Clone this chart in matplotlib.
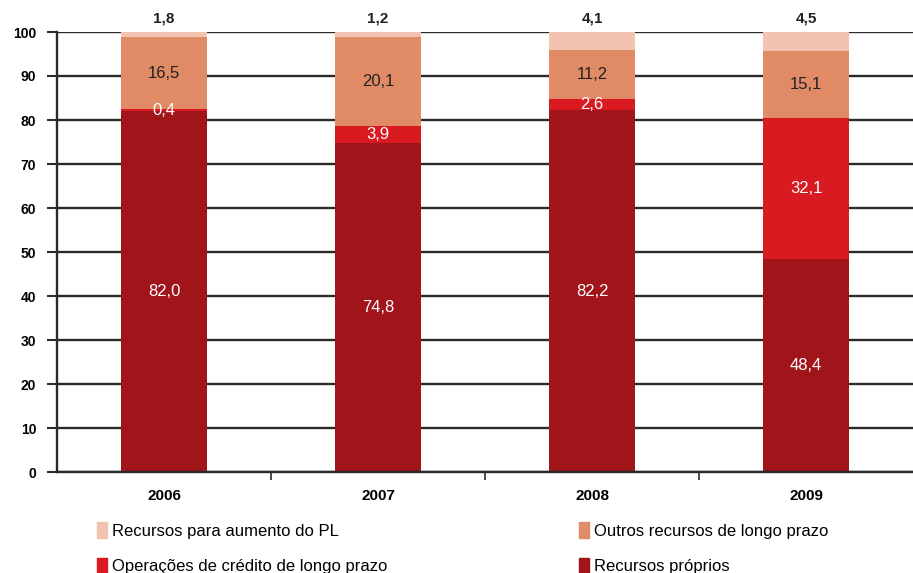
import matplotlib
matplotlib.use("Agg")
import matplotlib.pyplot as plt
from matplotlib.patches import Patch
import numpy as np

plt.rcParams['font.family'] = ['Liberation Sans Narrow', 'Liberation Sans', 'DejaVu Sans']

years = ["2006", "2007", "2008", "2009"]
proprios = [82.0, 74.8, 82.2, 48.4]
operacoes = [0.4, 3.9, 2.6, 32.1]
outros = [16.5, 20.1, 11.2, 15.1]
aumento_pl = [1.8, 1.2, 4.1, 4.5]
yticks = [0, 10, 20, 30, 40, 50, 60, 70, 80, 90, 100]

names = ["Recursos próprios", "Operações de crédito de longo prazo",
         "Outros recursos de longo prazo", "Recursos para aumento do PL"]
colors = ["#A0141A", "#D91A21", "#E08A66", "#F3C3B1"]
series = [proprios, operacoes, outros, aumento_pl]

fig = plt.figure(figsize=(9.13, 5.73), dpi=100)
ax = fig.add_axes([57/913, 1-472/573, 1-57/913, 440/573])

x = np.arange(len(years))
bottom = np.zeros(len(years))
width = 0.405
for s, c, n in zip(series, colors, names):
    ax.bar(x, s, width, bottom=bottom, color=c, label=n, zorder=2)
    bottom += np.array(s)

ax.set_xlim(-0.5, 3.5)
ax.set_ylim(0, 100)
ax.set_yticks(yticks)
ax.set_yticklabels([str(v) for v in yticks], fontsize=10, fontweight='bold')
ax.yaxis.grid(True, color='#2a2a2a', linewidth=1.7, zorder=1)
ax.set_axisbelow(True)
for sp in ['top', 'right']:
    ax.spines[sp].set_visible(False)
ax.spines['left'].set_linewidth(1.7)
ax.spines['bottom'].set_linewidth(1.7)
ax.spines['left'].set_color('#2a2a2a')
ax.spines['bottom'].set_color('#2a2a2a')
ax.tick_params(axis='y', length=7, width=1.5, color='#2a2a2a', pad=8)
ax.set_xticks(x)
ax.set_xticklabels(years, fontsize=11, fontweight='bold')
ax.tick_params(axis='x', length=0, pad=12)
ax.set_xticks([0.5, 1.5, 2.5], minor=True)
ax.tick_params(axis='x', which='minor', length=6, width=1.2, color='#2a2a2a')

def fmt(v):
    return f"{v:.1f}".replace('.', ',')

for i in range(len(years)):
    b = 0
    for k, (s, tc) in enumerate(zip(series[:3], ['white', 'white', '#222222'])):
        v = s[i]
        y = b + v / 2
        ax.text(x[i], y, fmt(v), ha='center', va='center', color=tc, fontsize=12, zorder=3)
        b += v
    ax.text(x[i], 101.5, fmt(aumento_pl[i]), ha='center', va='bottom', color='#222222',
            fontsize=11, fontweight='bold', clip_on=False)

order = [3, 1, 2, 0]
handles = [Patch(color=colors[k]) for k in order]
labels = [names[k] for k in order]
fig.legend(handles, labels, ncol=2, loc='upper left', bbox_to_anchor=(97/913, 1-522/573),
           frameon=False, fontsize=12, handlelength=0.6, handleheight=1.1, handletextpad=0.3,
           columnspacing=11.5, labelspacing=1.15, borderaxespad=0, borderpad=0)

fig.savefig("out.png", dpi=100)
